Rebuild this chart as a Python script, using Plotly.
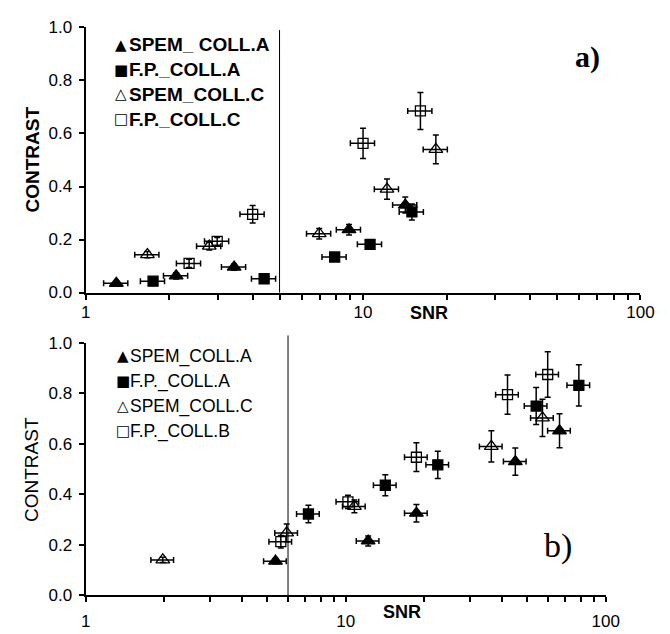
import plotly.graph_objects as go

# ---------- panel a) ----------
a_spem_a_snr = [1.29, 2.12, 3.43, 8.9, 14.2]
a_spem_a_con = [0.035, 0.063, 0.096, 0.237, 0.33]
a_spem_a_err = [0.008, 0.012, 0.012, 0.02, 0.03]

a_fp_a_snr = [1.75, 4.4, 7.9, 10.6, 15.0]
a_fp_a_con = [0.043, 0.052, 0.134, 0.182, 0.304]
a_fp_a_err = [0.008, 0.008, 0.01, 0.012, 0.03]

a_spem_c_snr = [1.67, 2.79, 6.95, 12.2, 18.3]
a_spem_c_con = [0.143, 0.175, 0.222, 0.39, 0.54]
a_spem_c_err = [0.012, 0.015, 0.02, 0.038, 0.054]

a_fp_c_snr = [2.36, 2.98, 4.0, 10.0, 16.1]
a_fp_c_con = [0.11, 0.193, 0.295, 0.563, 0.685]
a_fp_c_err = [0.016, 0.015, 0.033, 0.057, 0.07]

# ---------- panel b) ----------
b_spem_a_snr = [5.37, 12.2, 18.7, 44.9, 66.4]
b_spem_a_con = [0.135, 0.215, 0.325, 0.53, 0.652]
b_spem_a_err = [0.01, 0.02, 0.035, 0.054, 0.067]

b_fp_a_snr = [7.19, 14.2, 22.6, 54.0, 78.8]
b_fp_a_con = [0.322, 0.436, 0.517, 0.75, 0.832]
b_fp_a_err = [0.035, 0.042, 0.054, 0.073, 0.082]

b_spem_c_snr = [1.98, 5.93, 10.8, 36.3, 57.1]
b_spem_c_con = [0.14, 0.247, 0.352, 0.59, 0.703]
b_spem_c_err = [0.01, 0.035, 0.025, 0.062, 0.074]

b_fp_b_snr = [5.63, 10.2, 18.7, 41.9, 59.8]
b_fp_b_con = [0.212, 0.37, 0.547, 0.795, 0.875]
b_fp_b_err = [0.025, 0.026, 0.057, 0.078, 0.09]

snr_rel_err_pct = 10  # horizontal error bars, percent of SNR
threshold_a = 5
threshold_b = 6

legend_a = ["SPEM_ COLL.A", "F.P._COLL.A", "SPEM_COLL.C", "F.P._COLL.C"]
legend_b = ["SPEM_COLL.A", "F.P._COLL.A", "SPEM_COLL.C", "F.P._COLL.B"]
symbols = ["triangle-up", "square", "triangle-up-open", "square-open"]
glyphs = ["▲", "■", "△", "□"]

x_ticks = [1, 10, 100]
x_minor = [2, 3, 4, 5, 6, 7, 8, 9, 20, 30, 40, 50, 60, 70, 80, 90]
y_ticks = [0, 0.2, 0.4, 0.6, 0.8, 1.0]

W, H = 670, 634
fig = go.Figure()

panel_a = [(a_spem_a_snr, a_spem_a_con, a_spem_a_err),
           (a_fp_a_snr, a_fp_a_con, a_fp_a_err),
           (a_spem_c_snr, a_spem_c_con, a_spem_c_err),
           (a_fp_c_snr, a_fp_c_con, a_fp_c_err)]
panel_b = [(b_spem_a_snr, b_spem_a_con, b_spem_a_err),
           (b_fp_a_snr, b_fp_a_con, b_fp_a_err),
           (b_spem_c_snr, b_spem_c_con, b_spem_c_err),
           (b_fp_b_snr, b_fp_b_con, b_fp_b_err)]


def add_panel(data, names, xa, ya):
    for (sx, sy, se), name, sym in zip(data, names, symbols):
        is_tri = sym.startswith("triangle")
        fig.add_trace(go.Scatter(
            x=sx, y=sy, name=name, mode="markers", xaxis=xa, yaxis=ya,
            showlegend=False,
            marker=dict(symbol=sym, size=12 if is_tri else 10, color="black",
                        line=dict(color="black", width=1.3)),
            error_x=dict(type="percent", value=snr_rel_err_pct, color="black",
                         thickness=1.5, width=3),
            error_y=dict(type="data", array=se, color="black",
                         thickness=1.5, width=3),
        ))


add_panel(panel_a, legend_a, "x", "y")
add_panel(panel_b, legend_b, "x2", "y2")

axis_common = dict(showgrid=False, zeroline=False, showline=True,
                   linecolor="black", linewidth=2, ticks="outside",
                   tickcolor="black", ticklen=5, tickwidth=1.5,
                   tickfont=dict(family="Liberation Sans, Arial", size=17, color="black"))

xa_dom = [83 / W, 654 / W]
ya_dom = [(H - 292.3) / H, (H - 19) / H]
xb_dom = [83 / W, 618.3 / W]
yb_dom = [(H - 604.3) / H, (H - 344.3) / H]

fig.update_layout(
    width=W, height=H,
    margin=dict(l=0, r=0, t=0, b=0),
    paper_bgcolor="white", plot_bgcolor="white",
    xaxis=dict(type="log", range=[0, 2], domain=xa_dom, anchor="y",
               tickvals=x_ticks, ticktext=["1", "10", "100"],
               ticklabelstandoff=-2,
               minor=dict(tickvals=x_minor, ticks="outside", ticklen=5,
                          tickcolor="black", tickwidth=1.5),
               **axis_common),
    yaxis=dict(range=[0, 1], domain=ya_dom, anchor="x",
               tickvals=y_ticks, tickformat=".1f", ticklabelstandoff=3,
               **axis_common),
    xaxis2=dict(type="log", range=[0, 2], domain=xb_dom, anchor="y2",
                tickvals=x_ticks, ticktext=["1", "10", "100"],
                ticklabelstandoff=4,
                minor=dict(tickvals=x_minor, ticks="outside", ticklen=5,
                           tickcolor="black", tickwidth=1.5),
                **axis_common),
    yaxis2=dict(range=[0, 1], domain=yb_dom, anchor="x2",
                tickvals=y_ticks, tickformat=".1f", ticklabelstandoff=3,
                **axis_common),
)

# threshold lines
fig.add_shape(type="line", xref="x", yref="y domain", x0=threshold_a, x1=threshold_a,
              y0=0, y1=0.99, line=dict(color="black", width=1))
fig.add_shape(type="line", xref="x2", yref="y2 domain", x0=threshold_b, x1=threshold_b,
              y0=0, y1=1.03, line=dict(color="black", width=1))

font = "Liberation Sans, Arial"
glyph_font = "DejaVu Sans"
ann = []


def label(x, y, text, size, family=font, angle=0, xanchor="center"):
    ann.append(dict(xref="paper", yref="paper", x=x / W, y=1 - y / H,
                    xanchor=xanchor, yanchor="middle", showarrow=False,
                    textangle=angle, text=text,
                    font=dict(family=family, size=size, color="black")))


def legend_rows(names, x_glyph, x_text, y0, dy, size, bold):
    for i, (g, t) in enumerate(zip(glyphs, names)):
        yy = y0 + i * dy
        gsize = 15 if g in "▲△" else 15
        label(x_glyph, yy, g, gsize, family=glyph_font)
        label(x_text, yy, f"<b>{t}</b>" if bold else t, size, xanchor="left")


legend_rows(legend_a, 119, 126, 37, 25.5, 19, True)
legend_rows(legend_b, 121, 127, 358, 25.7, 17.5, False)

# axis titles
label(28, 155, "<b>CONTRAST</b>", 19, angle=-90)
label(28, 475, "CONTRAST", 19, angle=-90)
label(436, 313, "<b>SNR</b>", 18)
label(409, 622, "<b>SNR</b>", 18)

# panel tags
label(600, 49, "<b>a)</b>", 30, family="Liberation Serif, Times New Roman")
label(569, 554, "b)", 34, family="Liberation Serif, Times New Roman")

fig.update_layout(annotations=ann)
fig.write_html("out.html")
